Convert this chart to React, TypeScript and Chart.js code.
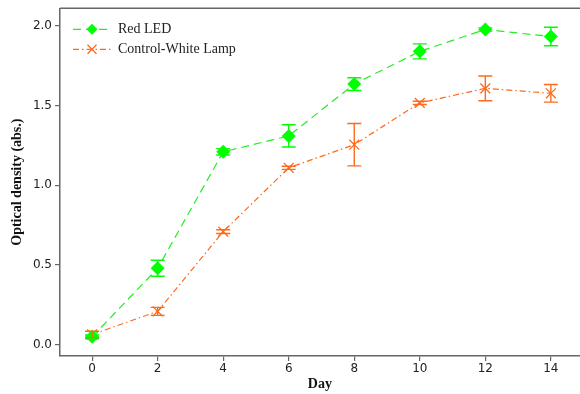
import React, { useEffect, useRef } from 'react';
import { Chart, registerables } from 'chart.js';
Chart.register(...registerables);

const days = [0, 2, 4, 6, 8, 10, 12, 14];
const redLed = [0.05, 0.48, 1.21, 1.31, 1.635, 1.84, 1.977, 1.933];
const redLedErr = [0.012, 0.05, 0.02, 0.07, 0.04, 0.047, 0.01, 0.058];
const control = [0.065, 0.21, 0.71, 1.11, 1.255, 1.517, 1.608, 1.577];
const controlErr = [0.02, 0.025, 0.012, 0.01, 0.133, 0.01, 0.078, 0.055];
const xTicks = [0, 2, 4, 6, 8, 10, 12, 14];
const yTicks = [0, 0.5, 1.0, 1.5, 2.0];
const seriesNames = ['Red LED', 'Control-White Lamp'];

const GREEN = '#00ff00';
const GREEN_LINE = '#22ee22';
const ORANGE = '#ff6a1a';
const AXIS = '#666666';

function drawMarker(ctx: CanvasRenderingContext2D, kind: string, x: number, y: number, r: number, color: string) {
  ctx.save();
  ctx.setLineDash([]);
  if (kind === 'diamond') {
    ctx.fillStyle = color;
    ctx.beginPath();
    ctx.moveTo(x, y - r);
    ctx.lineTo(x + r, y);
    ctx.lineTo(x, y + r);
    ctx.lineTo(x - r, y);
    ctx.closePath();
    ctx.fill();
  } else {
    ctx.strokeStyle = color;
    ctx.lineWidth = 1.3;
    const d = r * 0.75;
    ctx.beginPath();
    ctx.moveTo(x - d, y - d);
    ctx.lineTo(x + d, y + d);
    ctx.moveTo(x + d, y - d);
    ctx.lineTo(x - d, y + d);
    ctx.stroke();
  }
  ctx.restore();
}

const errs = [redLedErr, controlErr];
const colors = [GREEN, ORANGE];

const customPlugin = {
  id: 'custom',
  afterDatasetsDraw(chart: any) {
    const ctx = chart.ctx as CanvasRenderingContext2D;
    const yScale = chart.scales.y;
    chart.data.datasets.forEach((ds: any, i: number) => {
      const meta = chart.getDatasetMeta(i);
      ctx.save();
      ctx.strokeStyle = colors[i];
      ctx.lineWidth = 1.4;
      ctx.setLineDash([]);
      meta.data.forEach((pt: any, j: number) => {
        const v = ds.data[j].y;
        const e = errs[i][j];
        const y1 = yScale.getPixelForValue(v + e);
        const y2 = yScale.getPixelForValue(v - e);
        const x = pt.x;
        const cw = 7;
        ctx.beginPath();
        ctx.moveTo(x, y1);
        ctx.lineTo(x, y2);
        ctx.moveTo(x - cw, y1);
        ctx.lineTo(x + cw, y1);
        ctx.moveTo(x - cw, y2);
        ctx.lineTo(x + cw, y2);
        ctx.stroke();
      });
      ctx.restore();
    });
  },
  afterDraw(chart: any) {
    const ctx = chart.ctx as CanvasRenderingContext2D;
    const area = chart.chartArea;
    ctx.save();
    ctx.strokeStyle = AXIS;
    ctx.lineWidth = 1.5;
    ctx.beginPath();
    ctx.moveTo(area.left, area.top);
    ctx.lineTo(chart.width, area.top);
    ctx.stroke();
    // legend
    const lx0 = area.left + 13;
    const lx1 = area.left + 51;
    const tx = area.left + 58;
    const rows = [area.top + 21, area.top + 41];
    const dashes = [[8, 5], [6, 3, 1.5, 3]];
    const lineCols = [GREEN_LINE, ORANGE];
    const kinds = ['diamond', 'cross'];
    rows.forEach((y, i) => {
      ctx.strokeStyle = lineCols[i];
      ctx.lineWidth = 1.2;
      ctx.setLineDash(dashes[i]);
      ctx.beginPath();
      ctx.moveTo(lx0, y);
      ctx.lineTo(lx1, y);
      ctx.stroke();
      drawMarker(ctx, kinds[i], (lx0 + lx1) / 2, y, i === 0 ? 5.5 : 6, colors[i]);
      ctx.setLineDash([]);
      ctx.fillStyle = '#222';
      ctx.font = '14px "Liberation Serif", serif';
      ctx.textBaseline = 'middle';
      ctx.textAlign = 'left';
      ctx.fillText(seriesNames[i], tx, y);
    });
    ctx.restore();
  },
};

export default function App() {
  const ref = useRef<HTMLCanvasElement | null>(null);
  useEffect(() => {
    if (!ref.current) return;
    const chart = new Chart(ref.current, {
      type: 'line',
      data: {
        datasets: [
          {
            label: seriesNames[0],
            data: days.map((d, i) => ({ x: d, y: redLed[i] })),
            borderColor: GREEN_LINE,
            borderWidth: 1.2,
            borderDash: [8, 5],
            pointStyle: 'rectRot',
            pointRadius: 7,
            pointBackgroundColor: GREEN,
            pointBorderColor: GREEN,
            pointBorderWidth: 0,
            fill: false,
            tension: 0,
          },
          {
            label: seriesNames[1],
            data: days.map((d, i) => ({ x: d, y: control[i] })),
            borderColor: ORANGE,
            borderWidth: 1.2,
            borderDash: [6, 3, 1.5, 3],
            pointStyle: 'crossRot',
            pointRadius: 7,
            pointBackgroundColor: ORANGE,
            pointBorderColor: ORANGE,
            pointBorderWidth: 1.3,
            fill: false,
            tension: 0,
          },
        ],
      },
      options: {
        animation: false,
        responsive: false,
        maintainAspectRatio: false,
        devicePixelRatio: 1,
        layout: { padding: { top: 8, right: 0, left: 0, bottom: 0 } },
        plugins: { legend: { display: false }, tooltip: { enabled: false } },
        scales: {
          x: {
            type: 'linear',
            min: -0.98,
            max: 14.88,
            afterFit: (s: any) => { s.height = 38; },
            afterBuildTicks: (s: any) => { s.ticks = xTicks.map((v) => ({ value: v })); },
            ticks: {
              color: '#222',
              padding: 1,
              font: { family: '"DejaVu Sans", sans-serif', size: 12 },
              callback: (v: any) => String(v),
            },
            grid: { drawOnChartArea: false, drawTicks: true, tickLength: 5, color: AXIS, lineWidth: 1.2 },
            border: { color: AXIS, width: 1.5 },
            title: {
              display: true,
              text: 'Day',
              color: '#111',
              font: { family: '"Liberation Serif", serif', size: 14, weight: 'bold' },
              padding: { top: 0, bottom: 1 },
            },
          },
          y: {
            type: 'linear',
            min: -0.07,
            max: 2.11,
            afterFit: (s: any) => { s.width = 60; s.paddingTop = 0; s.paddingBottom = 0; },
            afterBuildTicks: (s: any) => { s.ticks = yTicks.map((v) => ({ value: v })); },
            ticks: {
              color: '#222',
              padding: 3,
              font: { family: '"DejaVu Sans", sans-serif', size: 12 },
              callback: (v: any) => Number(v).toFixed(1),
            },
            grid: { drawOnChartArea: false, drawTicks: true, tickLength: 5, color: AXIS, lineWidth: 1.2 },
            border: { color: AXIS, width: 1.5 },
            title: {
              display: true,
              text: 'Optical density (abs.)',
              color: '#111',
              font: { family: '"Liberation Serif", serif', size: 14, weight: 'bold' },
              padding: { top: 9, bottom: 0 },
            },
          },
        },
      },
      plugins: [customPlugin],
    } as any);
    return () => chart.destroy();
  }, []);
  return (
    <div style={{ position: 'absolute', left: 0, top: 0, width: 580, height: 394, overflow: 'hidden', background: '#fff' }}>
      <canvas ref={ref} width={588} height={394} style={{ display: 'block', width: 588, height: 394 }} />
    </div>
  );
}
